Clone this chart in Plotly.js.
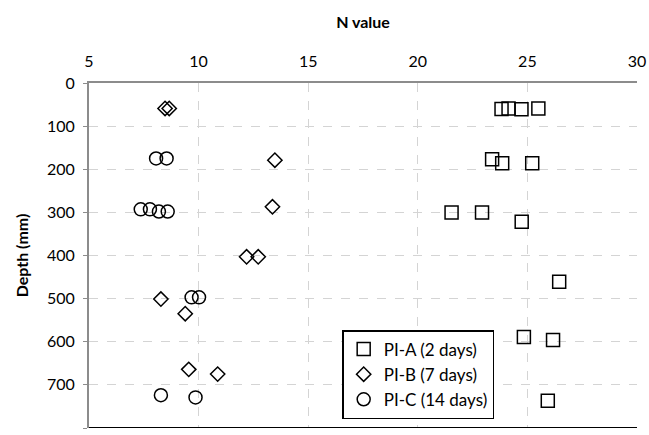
<!DOCTYPE html>
<html>
<head>
<meta charset="utf-8">
<script src="https://cdn.plot.ly/plotly-3.0.1.min.js"></script>
<style>html,body{margin:0;padding:0;background:#fff;}#chart{width:649px;height:435px;}</style>
</head>
<body>
<div id="chart"></div>
<script>
// PI-A (2 days)
const piA_N     = [23.82, 24.14, 24.73, 25.50, 23.39, 23.85, 25.22, 21.54, 22.93, 24.74, 26.45, 24.84, 26.17, 25.93];
const piA_depth = [60,    59,    61,    59,    177,   186,   186,   300,   300,   322,   461,   589,   596,   737];
// PI-B (7 days)
const piB_N     = [8.47, 8.66, 13.48, 13.37, 12.19, 12.72, 8.28, 9.39, 9.55, 10.87];
const piB_depth = [59,   59,   179,   287,   403,   403,   501,  535,  664,  675];
// PI-C (14 days)
const piC_N     = [8.06, 8.54, 7.36, 7.78, 8.19, 8.59, 9.68, 10.02, 8.28, 9.86];
const piC_depth = [175,  175,  293,  293,  298,  298,  497,  497,   724,  729];

const seriesNames = ['PI-A (2 days)', 'PI-B (7 days)', 'PI-C (14 days)'];
const xTicks = [5, 10, 15, 20, 25, 30];
const yTicks = [0, 100, 200, 300, 400, 500, 600, 700, 800];

const FONT = 'Lato, "Open Sans", sans-serif';
function mk(name, x, y, symbol, size, grp){
  return {type:'scatter', mode:'markers', name:name, x:x, y:y, legendgroup:grp,
    marker:{symbol:symbol, size:size, color:'#000', line:{color:'#000', width:1.5}}};
}
const data = [
  mk(seriesNames[0], piA_N, piA_depth, 'square-open', 13, 'a'),
  mk(seriesNames[1], piB_N, piB_depth, 'diamond-open', 11, 'b'),
  mk(seriesNames[2], piC_N, piC_depth, 'circle-open', 13, 'c')
];
const layout = {
  width:649, height:435,
  margin:{l:89, r:12, t:83, b:7},
  paper_bgcolor:'#fff', plot_bgcolor:'#fff',
  font:{family:FONT, size:16, color:'#000'},
  showlegend:true,
  legend:{x:0.462, y:0.284, xanchor:'left', yanchor:'top', bordercolor:'#000', borderwidth:1.5,
          bgcolor:'#fff', font:{family:FONT, size:17, color:'#000'}, traceorder:'grouped', tracegroupgap:0},
  xaxis:{range:[5,30], side:'top', tickvals:xTicks, ticktext:xTicks.map(String),
         showgrid:true, gridcolor:'#d4d4d4', griddash:'dash', gridwidth:1,
         showline:true, linecolor:'#8c8c8c', linewidth:2, zeroline:false, ticks:'',
         ticklabelstandoff:8,
         tickfont:{size:16}, title:{text:'<b>N value</b>', font:{size:16}, standoff:18}},
  yaxis:{range:[800,0], tickvals:yTicks, ticktext:yTicks.map(String),
         showgrid:true, gridcolor:'#d4d4d4', griddash:'dash', gridwidth:1,
         showline:true, linecolor:'#8c8c8c', linewidth:2, zeroline:false,
         ticks:'outside', ticklen:4, tickcolor:'#8c8c8c', tickwidth:1,
         ticklabelstandoff:5,
         tickfont:{size:16}, title:{text:'<b>Depth (mm)</b>', font:{size:16}, standoff:14}},
  shapes:[{type:'line', xref:'paper', yref:'y', x0:0, x1:1, y0:800, y1:800, line:{color:'#000', width:2}}]
};
Plotly.newPlot('chart', data, layout, {displayModeBar:false, staticPlot:true});
</script>
</body>
</html>
